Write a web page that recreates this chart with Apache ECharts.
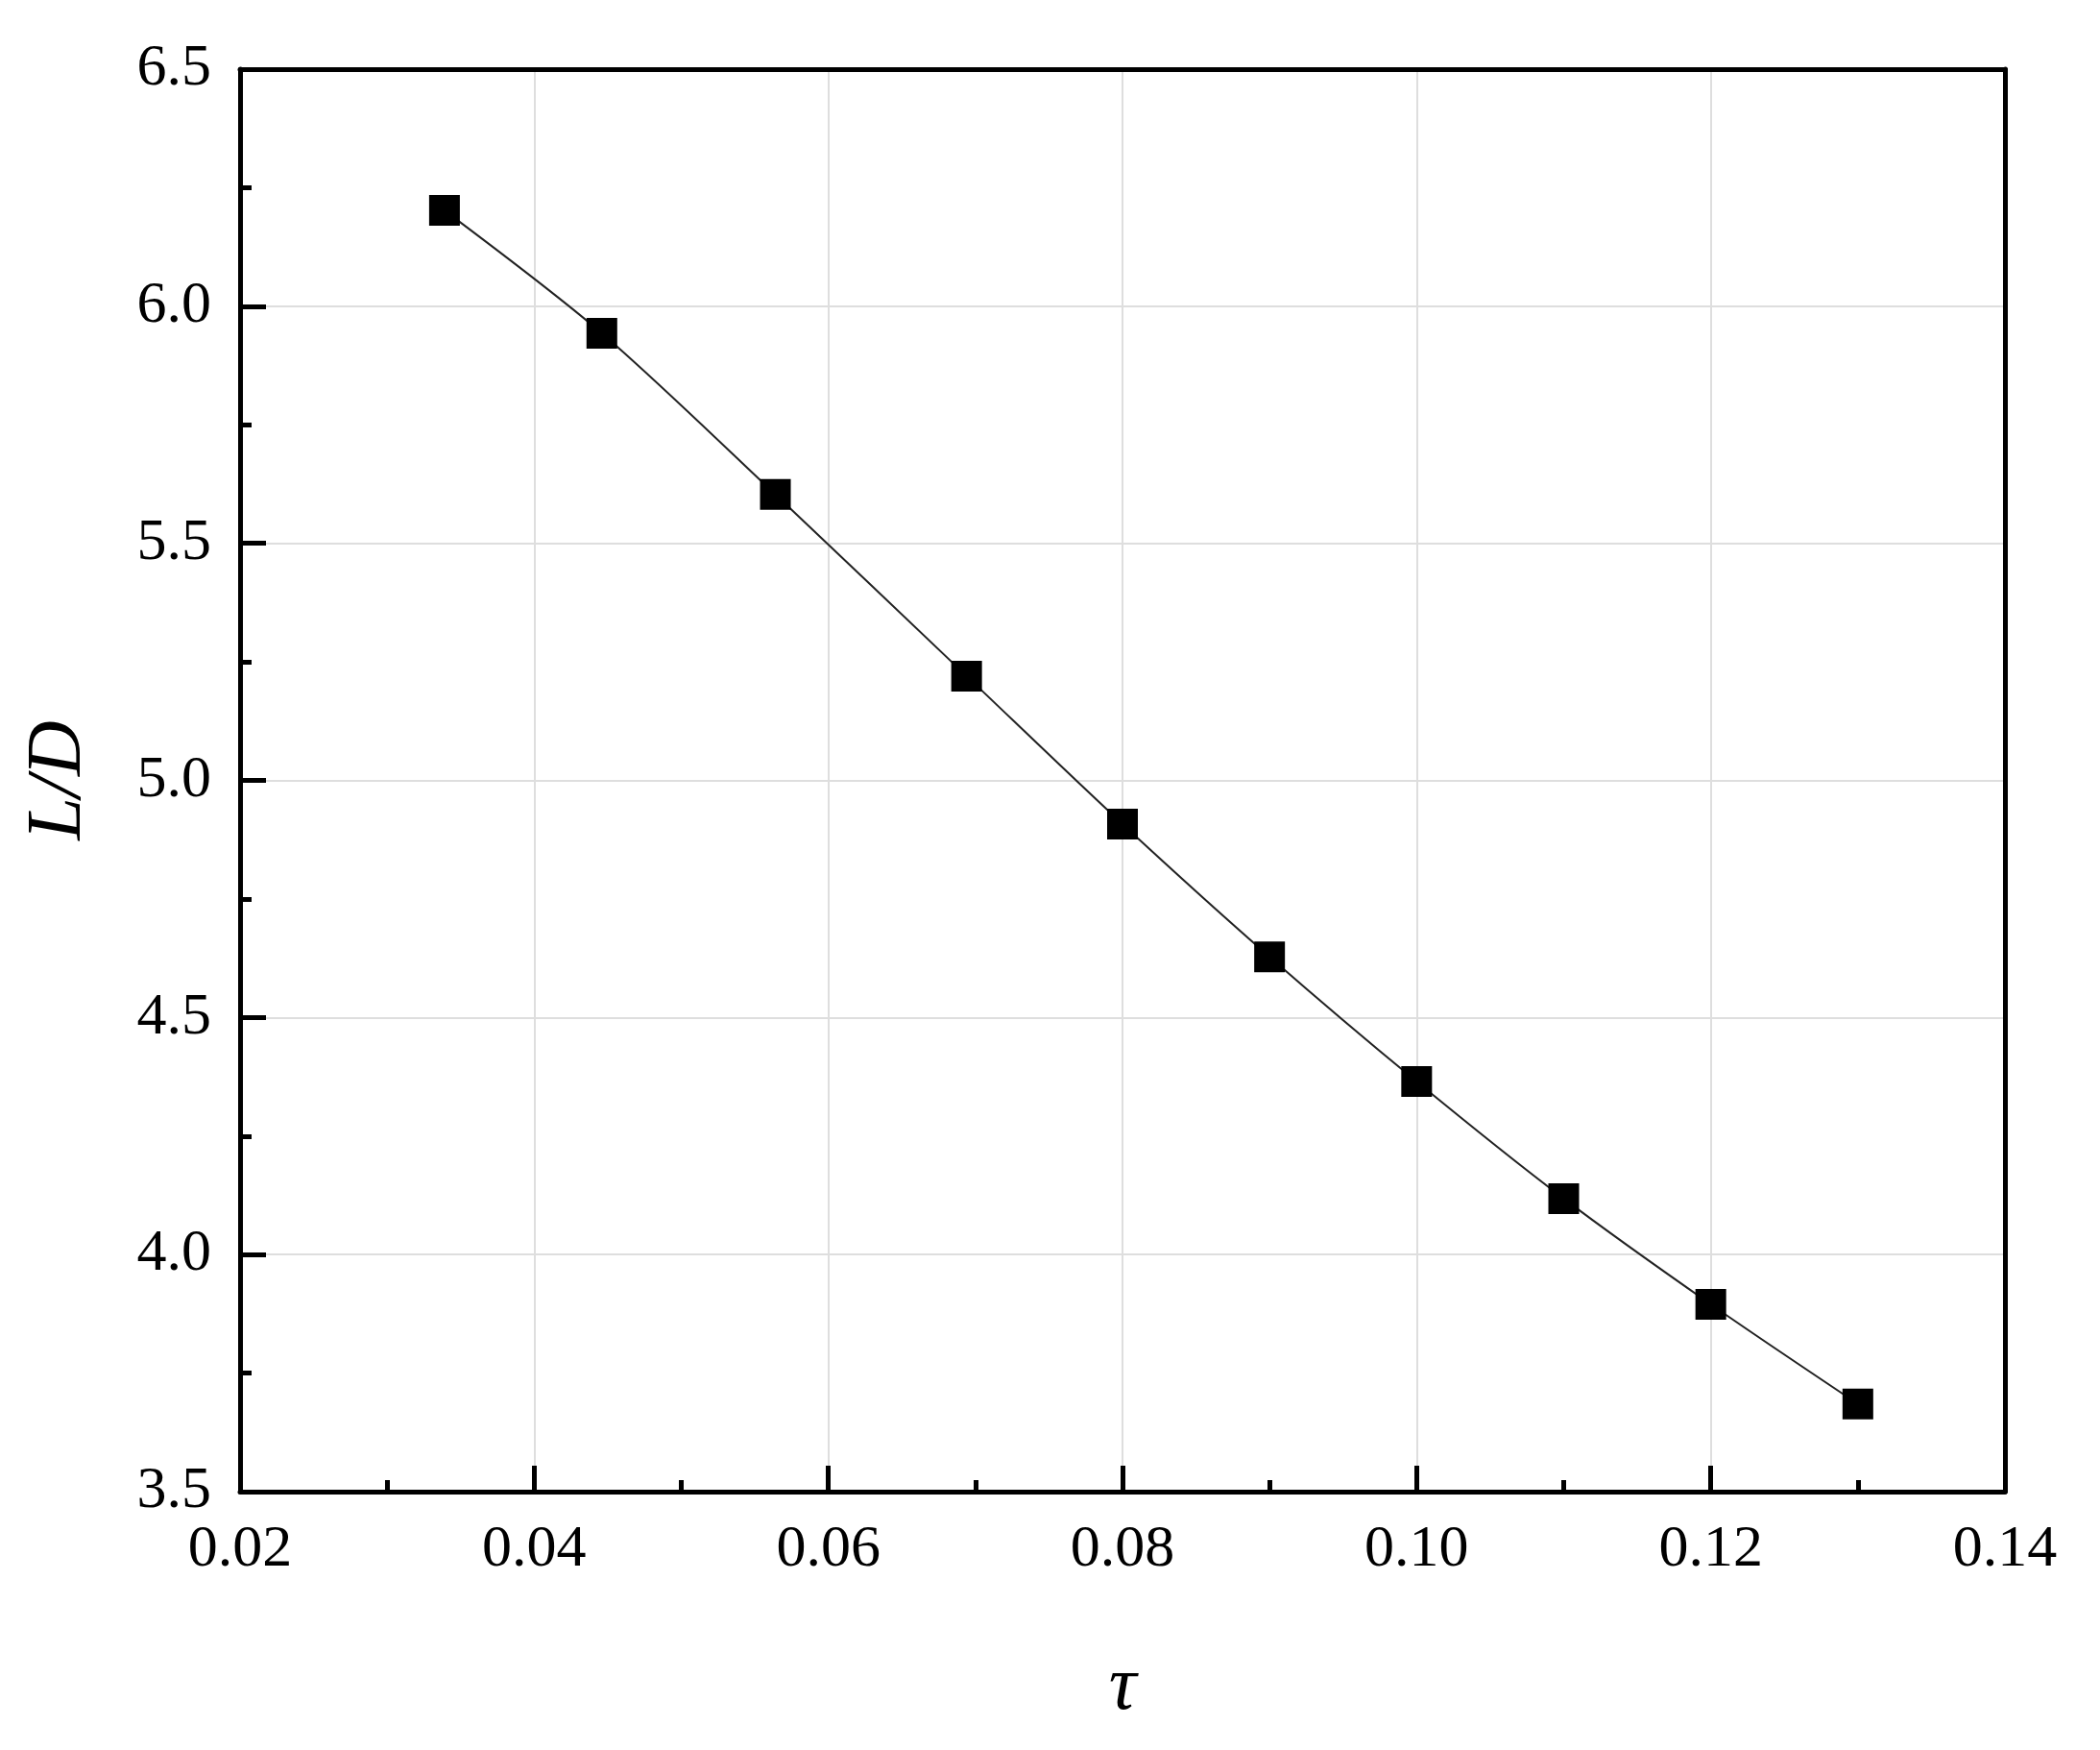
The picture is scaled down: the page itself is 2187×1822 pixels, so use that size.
<!DOCTYPE html>
<html>
<head>
<meta charset="utf-8">
<script src="https://cdn.jsdelivr.net/npm/echarts@6/dist/echarts.min.js"></script>
<style>
html,body{margin:0;padding:0;background:#fff;}
#main{width:2187px;height:1822px;}
</style>
</head>
<body>
<div id="main"></div>
<script>
const tau = [0.0339, 0.0446, 0.0564, 0.0694, 0.0800, 0.0900, 0.1000, 0.1100, 0.1200, 0.1300];
const ld = [6.202, 5.943, 5.603, 5.220, 4.908, 4.628, 4.365, 4.118, 3.895, 3.685];
const xTicks = ['0.02', '0.04', '0.06', '0.08', '0.10', '0.12', '0.14'];
const yTicks = ['3.5', '4.0', '4.5', '5.0', '5.5', '6.0', '6.5'];

const data = tau.map((t, i) => [t, ld[i]]);
const chart = echarts.init(document.getElementById('main'), null, {renderer: 'canvas'});
const FONT = '"Liberation Serif", "Times New Roman", serif';
const frameAxis = {
  show: true,
  axisLine: {show: true, onZero: false, lineStyle: {color: '#000', width: 5}},
  axisTick: {show: false}, axisLabel: {show: false}, splitLine: {show: false}
};
chart.setOption({
  backgroundColor: '#ffffff',
  animation: false,
  grid: {left: 250, right: 99, top: 72, bottom: 269, show: false},
  xAxis: [{
    type: 'value', min: 0.02, max: 0.14, interval: 0.02, position: 'bottom',
    name: 'τ', nameLocation: 'middle', nameGap: 165,
    nameTextStyle: {fontFamily: FONT, fontStyle: 'italic', fontSize: 80, color: '#000'},
    axisLine: {show: true, onZero: false, lineStyle: {color: '#000', width: 5}},
    axisTick: {show: true, inside: true, length: 27, lineStyle: {color: '#000', width: 5}},
    minorTick: {show: true, splitNumber: 2, length: 12, lineStyle: {color: '#000', width: 5}},
    splitLine: {show: true, showMinLine: false, showMaxLine: false, lineStyle: {color: '#dedede', width: 2}},
    axisLabel: {fontFamily: FONT, fontSize: 62, color: '#000', margin: 30,
      formatter: v => xTicks[Math.round((v - 0.02) / 0.02)] || ''}
  }, Object.assign({type: 'value', min: 0.02, max: 0.14, interval: 0.02, position: 'top'}, frameAxis)],
  yAxis: [{
    type: 'value', min: 3.5, max: 6.5, interval: 0.5, position: 'left',
    name: 'L/D', nameLocation: 'middle', nameGap: 148, nameRotate: 90,
    nameTextStyle: {fontFamily: FONT, fontStyle: 'italic', fontSize: 80, color: '#000'},
    axisLine: {show: true, onZero: false, lineStyle: {color: '#000', width: 5}},
    axisTick: {show: true, inside: true, length: 27, lineStyle: {color: '#000', width: 5}},
    minorTick: {show: true, splitNumber: 2, length: 12, lineStyle: {color: '#000', width: 5}},
    splitLine: {show: true, showMinLine: false, showMaxLine: false, lineStyle: {color: '#dedede', width: 2}},
    axisLabel: {fontFamily: FONT, fontSize: 62, color: '#000', margin: 30, padding: [0, 0, 10, 0],
      formatter: v => yTicks[Math.round((v - 3.5) / 0.5)] || ''}
  }, Object.assign({type: 'value', min: 3.5, max: 6.5, interval: 0.5, position: 'right'}, frameAxis)],
  series: [{
    type: 'line', data: data, smooth: 0.3, xAxisIndex: 0, yAxisIndex: 0,
    symbol: 'rect', symbolSize: 32,
    itemStyle: {color: '#000'},
    lineStyle: {color: '#222', width: 2}
  }]
});
</script>
</body>
</html>
